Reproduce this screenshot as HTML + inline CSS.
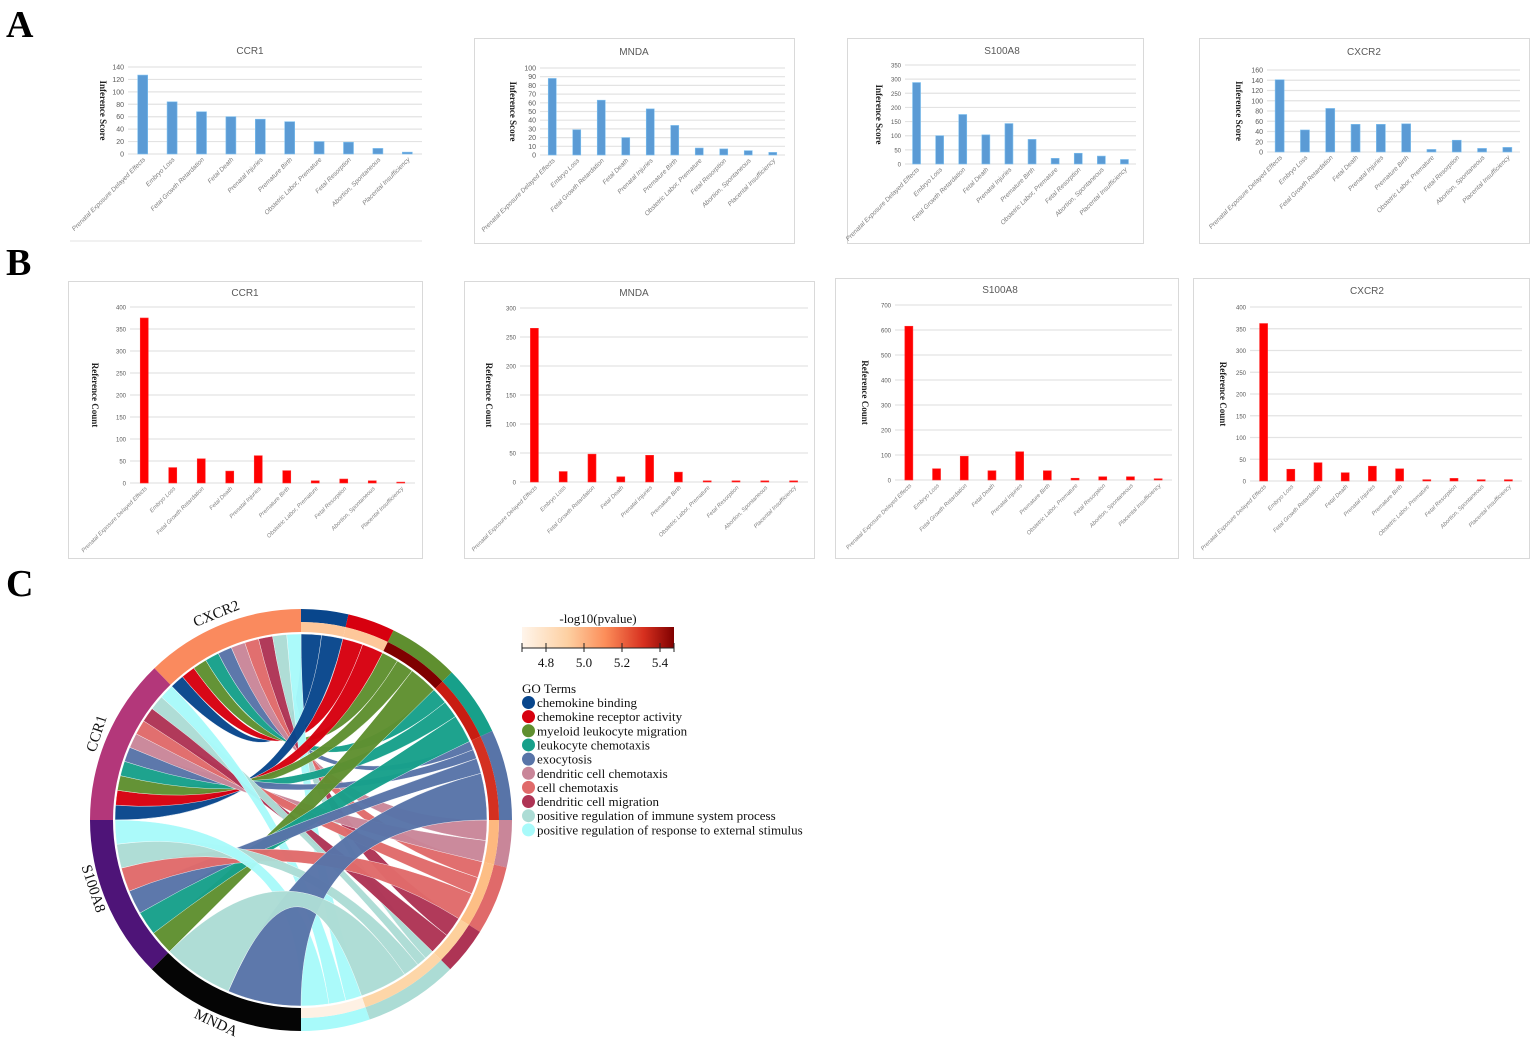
<!DOCTYPE html>
<html><head><meta charset="utf-8"><style>
html,body{margin:0;padding:0;background:#fff;}
svg{display:block;}
</style></head><body>
<svg id="s" width="1535" height="1039" viewBox="0 0 1535 1039" xmlns="http://www.w3.org/2000/svg">
<g font-family="Liberation Serif, serif" font-weight="bold" font-size="38" fill="#000">
<text x="6" y="37">A</text><text x="6" y="275">B</text><text x="6" y="596">C</text>
</g>
<g font-family="Liberation Serif, serif" font-size="13" fill="#111">
<text x="598" y="623" text-anchor="middle">-log10(pvalue)</text>
<text x="546" y="667" text-anchor="middle">4.8</text>
<text x="584" y="667" text-anchor="middle">5.0</text>
<text x="622" y="667" text-anchor="middle">5.2</text>
<text x="660" y="667" text-anchor="middle">5.4</text>
<text x="522" y="693">GO Terms</text>
</g>
</svg>
<script>
var NS="http://www.w3.org/2000/svg",S=document.getElementById('s');
function el(t,a,p,txt){var e=document.createElementNS(NS,t);for(var k in a)e.setAttribute(k,a[k]);if(txt!=null)e.textContent=txt;(p||S).appendChild(e);return e;}
var cats=["Prenatal Exposure Delayed Effects","Embryo Loss","Fetal Growth Retardation","Fetal Death","Prenatal Injuries","Premature Birth","Obstetric Labor, Premature","Fetal Resorption","Abortion, Spontaneous","Placental Insufficiency"];
function bar(c){
 if(c.box)el('rect',{x:c.box[0]+.5,y:c.box[1]+.5,width:c.box[2]-c.box[0],height:c.box[3]-c.box[1],fill:'none',stroke:'#d9d9d9'});
 el('text',{x:c.tx,y:c.ty,'text-anchor':'middle','font-family':'Liberation Sans, sans-serif','font-size':10,fill:'#595959'},null,c.title);
 var n=c.max/c.step;
 for(var i=0;i<=n;i++){var y=c.y0-(c.y0-c.yt)*i/n;
  el('line',{x1:c.x0,x2:c.x1,y1:y,y2:y,stroke:'#e3e3e3','stroke-width':1.2});
  el('text',{x:c.x0-4,y:y+2.5,'text-anchor':'end','font-family':'Liberation Sans, sans-serif','font-size':c.fs||7,fill:'#595959'},null,String(c.step*i));}
 var w=(c.x1-c.x0)/10;
 c.vals.forEach(function(v,i){var cx=c.x0+(i+.5)*w,h=(c.y0-c.yt)*v/c.max;
  el('rect',{x:cx-c.bw/2,y:c.y0-h,width:c.bw,height:h,fill:c.color,stroke:c.stroke,'stroke-width':0.6});
  el('text',{x:0,y:0,transform:'translate('+(cx+3)+','+(c.y0+6)+') rotate(-45)','text-anchor':'end','font-family':'Liberation Sans, sans-serif','font-size':c.ls||6.5,'font-style':'italic',fill:'#7f7f7f'},null,cats[i]);});
 el('text',{x:0,y:0,transform:'translate('+c.ytx+','+((c.y0+c.yt)/2)+') rotate(90)','text-anchor':'middle','font-family':'Liberation Serif, serif','font-weight':'bold','font-size':9,fill:'#222'},null,c.yl);
}
var blue='#5b9bd5',bs='#7fc1f0';
el('line',{x1:70,x2:422,y1:241,y2:241,stroke:'#e3e3e3'});
bar({title:'CCR1',tx:250,ty:54,x0:128,x1:422,yt:67,y0:154,max:140,step:20,vals:[127,84,68,60,56,52,20,19,9,3],color:blue,stroke:bs,bw:10,yl:'Inference Score',ytx:100});
bar({box:[474,38,794,243],title:'MNDA',tx:634,ty:55,x0:540,x1:785,yt:68,y0:155,max:100,step:10,vals:[88,29,63,20,53,34,8,7,5,3],color:blue,stroke:bs,bw:8,yl:'Inference Score',ytx:510});
bar({box:[847,38,1143,243],title:'S100A8',tx:1002,ty:54,x0:905,x1:1136,yt:65,y0:164,max:350,step:50,vals:[288,100,175,103,143,87,20,38,28,16],color:blue,stroke:bs,bw:8,yl:'Inference Score',ytx:876,fs:6});
bar({box:[1199,38,1529,243],title:'CXCR2',tx:1364,ty:55,x0:1267,x1:1520,yt:70,y0:152,max:160,step:20,vals:[141,43,85,54,54,55,5,23,7,9],color:blue,stroke:bs,bw:9,yl:'Inference Score',ytx:1236});
var red='#ff0000',rs='#ff3030';
bar({box:[68,281,422,558],title:'CCR1',tx:245,ty:296,x0:130,x1:415,yt:307,y0:483,max:400,step:50,vals:[375,35,55,27,62,28,5,9,5,2],color:red,stroke:rs,bw:8,yl:'Reference Count',ytx:92,fs:6,ls:5.8});
bar({box:[464,281,814,558],title:'MNDA',tx:634,ty:296,x0:520,x1:808,yt:308,y0:482,max:300,step:50,vals:[265,18,48,9,46,17,2,2,2,2],color:red,stroke:rs,bw:8,yl:'Reference Count',ytx:486,fs:6,ls:5.8});
bar({box:[835,278,1178,558],title:'S100A8',tx:1000,ty:293,x0:895,x1:1172,yt:305,y0:480,max:700,step:100,vals:[615,45,95,37,113,37,7,13,13,5],color:red,stroke:rs,bw:8,yl:'Reference Count',ytx:862,fs:6,ls:5.8});
bar({box:[1193,278,1529,558],title:'CXCR2',tx:1367,ty:294,x0:1250,x1:1522,yt:307,y0:481,max:400,step:50,vals:[362,27,42,19,34,28,3,6,3,3],color:red,stroke:rs,bw:8,yl:'Reference Count',ytx:1220,fs:6,ls:5.8});

var d=el('defs',{});var g=el('linearGradient',{id:'cb',x1:0,x2:1,y1:0,y2:0},d);
[['0','#fff5eb'],['0.3','#fdd0a2'],['0.55','#fc8d59'],['0.8','#d7301f'],['1','#7f0000']].forEach(function(s){el('stop',{offset:s[0],'stop-color':s[1]},g);});
el('rect',{x:522,y:627,width:152,height:21,fill:'url(#cb)'});
el('line',{x1:522,x2:674,y1:648,y2:648,stroke:'#222'});
[522,546,584,622,660,674].forEach(function(x){el('line',{x1:x,x2:x,y1:643,y2:652,stroke:'#222'});});

var terms=["chemokine binding","chemokine receptor activity","myeloid leukocyte migration","leukocyte chemotaxis","exocytosis","dendritic cell chemotaxis","cell chemotaxis","dendritic cell migration","positive regulation of immune system process","positive regulation of response to external stimulus"];
var tc=['#08468c','#d7000f','#5f8f2f','#17a08a','#5874a8','#c98699','#e06a6a','#ae3455','#acdcd5','#a8fafa'];
var pc=['#fdc79a','#fdc79a','#7f0000','#c81d12','#d43020','#fdb87f','#fdbe85','#fdd09c','#fdd6a8','#fef1e4'];
terms.forEach(function(t,i){var y=707+i*14.15;
 el('circle',{cx:528.5,cy:y-4.5,r:6.5,fill:tc[i]});
 el('text',{x:537,y:y,'font-family':'Liberation Serif, serif','font-size':13,fill:'#111'},null,t);});

var CX=301,CY=820,RO=211,RM=198,RI=188,RC=186;
function P(r,a){a=a*Math.PI/180;return [CX+r*Math.sin(a),CY-r*Math.cos(a)];}
function arcSeg(r1,r2,a1,a2,fill){var p1=P(r2,a1),p2=P(r2,a2),p3=P(r1,a2),p4=P(r1,a1),lg=(a2-a1)>180?1:0;
 el('path',{d:'M'+p1+' A'+r2+' '+r2+' 0 '+lg+' 1 '+p2+' L'+p3+' A'+r1+' '+r1+' 0 '+lg+' 0 '+p4+'Z',fill:fill});}
var goA=[0,13,26,45.6,65,90,103,122,135,161,180];
var genes=[
 {n:'CXCR2',a:[316,360],c:'#fa8a5e',t:[0,1,2,3,4,5,6,7,8,9]},
 {n:'CCR1',a:[270,316],c:'#b3377a',t:[0,1,2,3,4,5,6,7,8,9]},
 {n:'S100A8',a:[225,270],c:'#4e1478',t:[2,3,4,6,8,9]},
 {n:'MNDA',a:[180,225],c:'#050505',t:[4,8],w:[23,22]}];
var links=[];
genes.forEach(function(gn,gi){var tot=gn.a[1]-gn.a[0],ws=gn.w||gn.t.map(function(){return tot/gn.t.length;});var a=gn.a[0];
 gn.t.forEach(function(t,k){links.push({g:gi,t:t,a1:a,a2:a+ws[k]});a+=ws[k];});});
for(var t=0;t<10;t++){var L=links.filter(function(l){return l.t==t;});L.sort(function(x,y){return x.g-y.g;});
 var tot=0;L.forEach(function(l){tot+=l.a2-l.a1;});var span=goA[t+1]-goA[t],b=goA[t];
 L.forEach(function(l){var w=span*(l.a2-l.a1)/tot;l.b1=b;l.b2=b+w;b+=w;});}
function ribbon(l){var a1=P(RC,l.a1),a2=P(RC,l.a2),b1=P(RC,l.b1),b2=P(RC,l.b2),c=CX+' '+CY;
 return 'M'+a1+' A'+RC+' '+RC+' 0 0 1 '+a2+' Q'+c+' '+b1+' A'+RC+' '+RC+' 0 0 1 '+b2+' Q'+c+' '+a1+'Z';}
links.forEach(function(l){el('path',{d:ribbon(l),fill:tc[l.t],'fill-opacity':0.97,stroke:'#fff','stroke-width':0.4});});
genes.forEach(function(gn){arcSeg(RI,RO,gn.a[0],gn.a[1],gn.c);});
for(var t=0;t<10;t++){arcSeg(RM,RO,goA[t],goA[t+1],tc[t]);arcSeg(RI,RM,goA[t],goA[t+1],pc[t]);}
[['CXCR2',218,618,-22],['CCR1',101,735,-72],['S100A8',89,890,72],['MNDA',214,1027,25]].forEach(function(L){
 el('text',{x:0,y:0,transform:'translate('+L[1]+','+L[2]+') rotate('+L[3]+')','text-anchor':'middle','font-family':'Liberation Serif, serif','font-size':15,fill:'#111'},null,L[0]);});
</script>
</body></html>
